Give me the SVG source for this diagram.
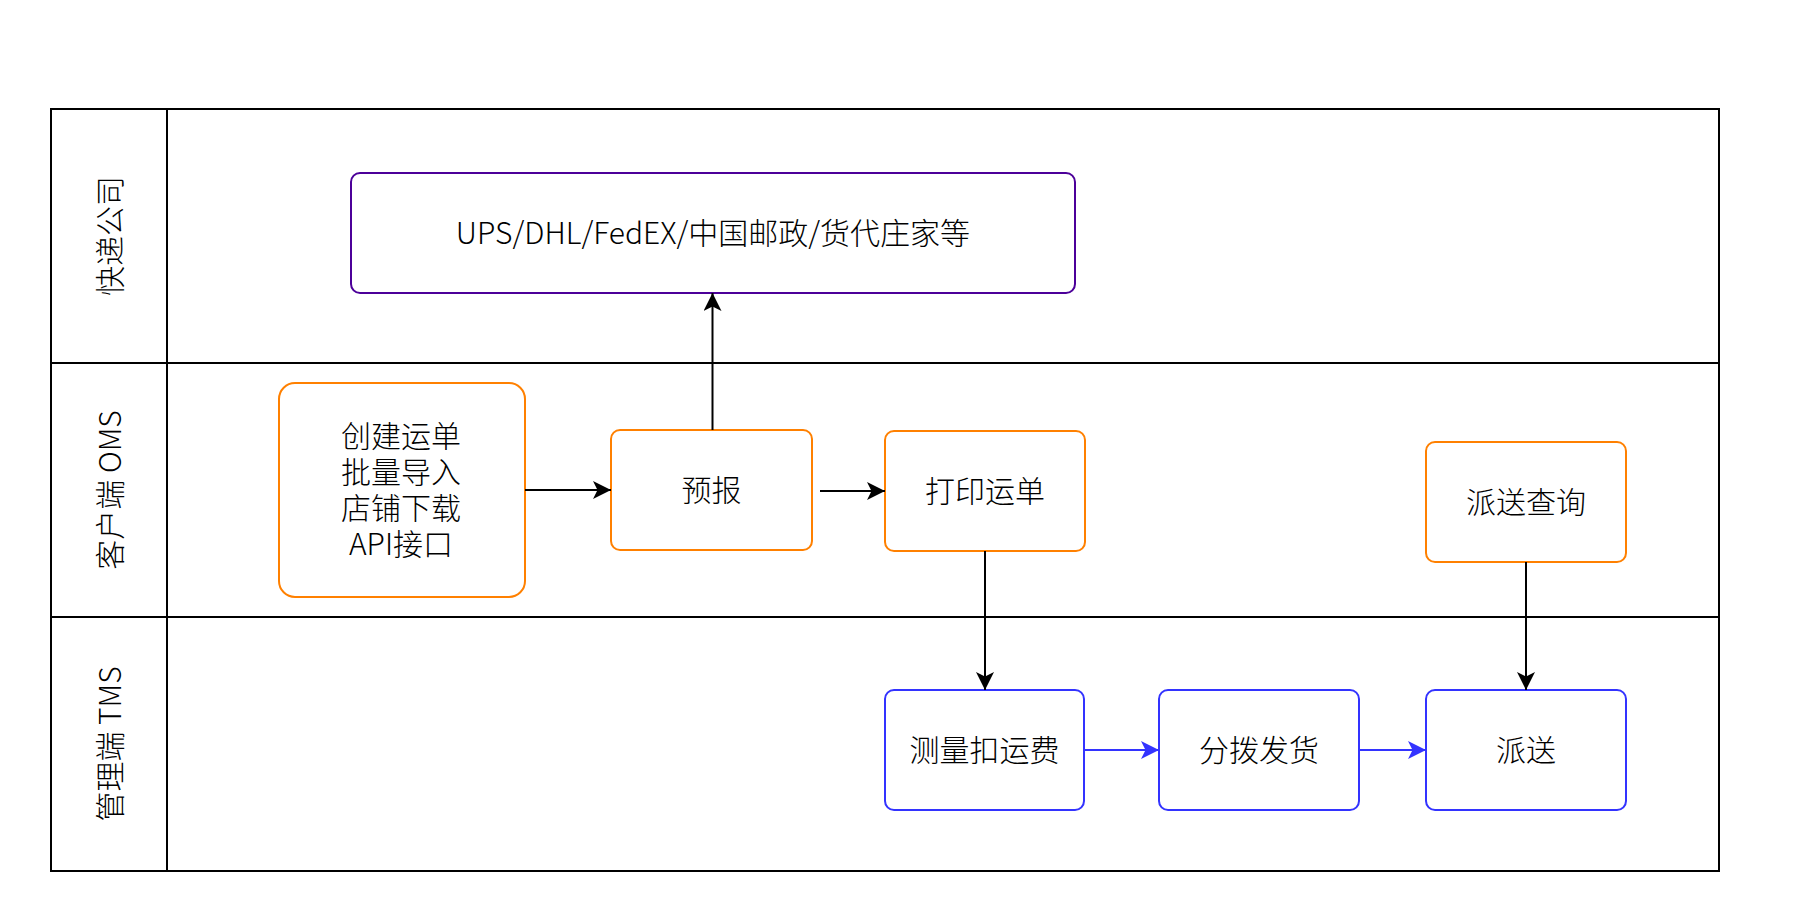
<svg xmlns="http://www.w3.org/2000/svg" width="1808" height="922" viewBox="0 0 1808 922">
<style>
  .lane { fill: none; stroke: #000; stroke-width: 2; }
  .lbl { font-family: "Noto Sans CJK SC", "Noto Sans", sans-serif; font-size: 30px; font-weight: 300; fill: #000; text-anchor: middle; dominant-baseline: central; }
  .orange { fill: #fff; stroke: #FF8000; stroke-width: 2; }
  .purple { fill: #fff; stroke: #4C0099; stroke-width: 2; }
  .blue { fill: #fff; stroke: #3333FF; stroke-width: 2; }
  .ck { fill: none; stroke: #000; stroke-width: 2; }
  .cb { fill: none; stroke: #3333FF; stroke-width: 2; }
</style>
<defs>
  <marker id="ak" viewBox="0 0 18 18" refX="18" refY="9" markerWidth="18" markerHeight="18" markerUnits="userSpaceOnUse" orient="auto">
    <path d="M0,0 L18,9 L0,18 L4.5,9 Z" fill="#000"/>
  </marker>
  <marker id="ab" viewBox="0 0 18 18" refX="18" refY="9" markerWidth="18" markerHeight="18" markerUnits="userSpaceOnUse" orient="auto">
    <path d="M0,0 L18,9 L0,18 L4.5,9 Z" fill="#3333FF"/>
  </marker>
</defs>
<rect width="1808" height="922" fill="#fff"/>
<g id="pool">
  <rect class="lane" x="51" y="109" width="1668" height="762"/>
  <line class="lane" x1="167" y1="109" x2="167" y2="871"/>
  <line class="lane" x1="51" y1="363" x2="1719" y2="363"/>
  <line class="lane" x1="51" y1="617" x2="1719" y2="617"/>
  <text class="lbl" transform="translate(108,236) rotate(-90)">快递公司</text>
  <text class="lbl" transform="translate(108,490) rotate(-90)">客户端 OMS</text>
  <text class="lbl" transform="translate(108,744) rotate(-90)">管理端 TMS</text>
</g>
<g id="node-carriers">
  <rect class="purple" x="351" y="173" width="724" height="120" rx="9"/>
  <text class="lbl" x="713" y="231">UPS/DHL/FedEX/中国邮政/货代庄家等</text>
</g>
<g id="node-create">
  <rect class="orange" x="279" y="383" width="246" height="214" rx="16"/>
  <text class="lbl" x="401" y="434">创建运单</text>
  <text class="lbl" x="401" y="470">批量导入</text>
  <text class="lbl" x="401" y="506">店铺下载</text>
  <text class="lbl" x="401" y="542">API接口</text>
</g>
<g id="node-forecast">
  <rect class="orange" x="611" y="430" width="201" height="120" rx="9"/>
  <text class="lbl" x="711.5" y="488">预报</text>
</g>
<g id="node-print">
  <rect class="orange" x="885" y="431" width="200" height="120" rx="9"/>
  <text class="lbl" x="985" y="489">打印运单</text>
</g>
<g id="node-query">
  <rect class="orange" x="1426" y="442" width="200" height="120" rx="9"/>
  <text class="lbl" x="1526" y="500">派送查询</text>
</g>
<g id="node-measure">
  <rect class="blue" x="885" y="690" width="199" height="120" rx="9"/>
  <text class="lbl" x="984.5" y="748">测量扣运费</text>
</g>
<g id="node-sort">
  <rect class="blue" x="1159" y="690" width="200" height="120" rx="9"/>
  <text class="lbl" x="1259" y="748">分拨发货</text>
</g>
<g id="node-deliver">
  <rect class="blue" x="1426" y="690" width="200" height="120" rx="9"/>
  <text class="lbl" x="1526" y="748">派送</text>
</g>
<g id="connectors">
  <line class="ck" x1="525" y1="490" x2="611" y2="490" marker-end="url(#ak)"/>
  <line class="ck" x1="712.5" y1="430" x2="712.5" y2="293" marker-end="url(#ak)"/>
  <line class="ck" x1="820" y1="491" x2="885" y2="491" marker-end="url(#ak)"/>
  <line class="ck" x1="985" y1="551" x2="985" y2="690" marker-end="url(#ak)"/>
  <line class="ck" x1="1526" y1="562" x2="1526" y2="690" marker-end="url(#ak)"/>
  <line class="cb" x1="1084" y1="750" x2="1159" y2="750" marker-end="url(#ab)"/>
  <line class="cb" x1="1359" y1="750" x2="1426" y2="750" marker-end="url(#ab)"/>
</g>
</svg>
